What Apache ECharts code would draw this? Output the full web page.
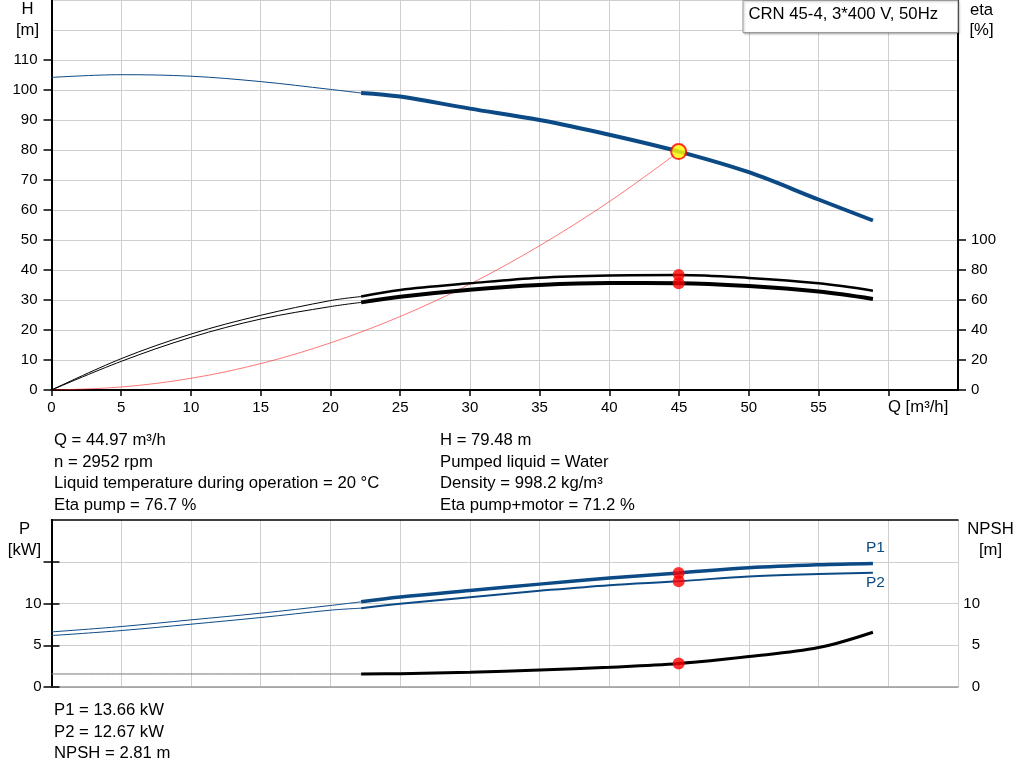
<!DOCTYPE html>
<html>
<head>
<meta charset="utf-8">
<script src="https://cdn.jsdelivr.net/npm/echarts@6/dist/echarts.min.js"></script>
<style>
html,body{margin:0;padding:0;background:#fff;}
#c{width:1024px;height:781px;}
</style>
</head>
<body>
<div id="c"></div>
<script>
// ---- data ----
const Q_TICKS = [0, 5, 10, 15, 20, 25, 30, 35, 40, 45, 50, 55, 60];
const Q_LABELS = [0, 5, 10, 15, 20, 25, 30, 35, 40, 45, 50, 55];
const H_TICKS = [0, 10, 20, 30, 40, 50, 60, 70, 80, 90, 100, 110];
const ETA_TICKS = [0, 20, 40, 60, 80, 100];
const P_TICKS = [0, 5, 10, 15];
const P_LABELS = [0, 5, 10];

const Q_THIN = [0, 5, 10, 15, 20, 22.2];
const Q_THICK = [22.2, 25, 30, 35, 40, 45, 50, 55, 58.9];

const H_THIN = [104.2, 105.1, 104.6, 102.8, 100.2, 99.0];
const H_THICK = [99.0, 97.8, 93.8, 90.0, 85.1, 79.48, 72.6, 63.5, 56.5];

const ETA_PUMP_THIN = [0, 20.9, 37.3, 49.8, 59.6, 62.3];
const ETA_PUMP_THICK = [62.3, 66.7, 71.1, 74.9, 76.4, 76.7, 74.7, 71.1, 66.2];
const ETA_TOTAL_THIN = [0, 19.1, 35.1, 47.3, 55.6, 58.4];
const ETA_TOTAL_THICK = [58.4, 62.2, 66.9, 70.0, 71.3, 71.2, 69.3, 65.6, 60.7];

const SYS_Q = [0, 5, 10, 15, 20, 25, 30, 35, 40, 45];
const SYS_H = [0, 1.0, 3.9, 8.8, 15.7, 24.5, 35.3, 48.1, 62.8, 79.48];

const P1_THIN = [6.6, 7.24, 8.04, 8.84, 9.76, 10.2];
const P1_THICK = [10.2, 10.77, 11.56, 12.32, 13.04, 13.66, 14.28, 14.64, 14.8];
const P2_THIN = [6.16, 6.76, 7.52, 8.32, 9.2, 9.44];
const P2_THICK = [9.44, 9.96, 10.76, 11.52, 12.2, 12.67, 13.24, 13.52, 13.68];
const NPSH_THIN = [1.56, 1.56, 1.56, 1.56, 1.56, 1.56];
const NPSH_THICK = [1.56, 1.6, 1.76, 2.04, 2.36, 2.81, 3.64, 4.72, 6.56];

const DUTY_Q = 44.97;
const DUTY_H = 79.48;
const DUTY_ETA = [76.7, 71.2];
const DUTY_P = [13.66, 12.67];
const DUTY_NPSH = 2.81;

const TEXT_LEFT = ['Q = 44.97 m³/h', 'n = 2952 rpm', 'Liquid temperature during operation = 20 °C', 'Eta pump = 76.7 %'];
const TEXT_RIGHT = ['H = 79.48 m', 'Pumped liquid = Water', 'Density = 998.2 kg/m³', 'Eta pump+motor = 71.2 %'];
const TEXT_BOTTOM = ['P1 = 13.66 kW', 'P2 = 12.67 kW', 'NPSH = 2.81 m'];
const TITLE_BOX = 'CRN 45-4, 3*400 V, 50Hz';

// ---- helpers ----
const zip = (xs, ys) => xs.map((x, i) => [x, ys[i]]);
const FONT = '"Liberation Sans", Arial, Helvetica, sans-serif';
const BLUE = '#0c4a86';
const GRID = '#cfcfcf';
const BIG = '16.7px ';

function lineSeries(x, y, d, color, width, extra) {
  return Object.assign({
    type: 'line', xAxisIndex: x, yAxisIndex: y, data: d,
    smooth: 0.35, showSymbol: false, symbol: 'none',
    lineStyle: { color: color, width: width }, itemStyle: { color: color },
    silent: true, animation: false
  }, extra || {});
}
function txt(text, x, y, opts) {
  return {
    type: 'text', z: 100,
    style: Object.assign({ text: text, x: x, y: y, font: BIG + FONT, fill: '#000',
      textAlign: 'left', textVerticalAlign: 'middle' }, opts || {})
  };
}

const graphics = [];
TEXT_LEFT.forEach((t, i) => graphics.push(txt(t, 54, 440.7 + i * 21.4)));
TEXT_RIGHT.forEach((t, i) => graphics.push(txt(t, 440, 440.7 + i * 21.4)));
TEXT_BOTTOM.forEach((t, i) => graphics.push(txt(t, 54, 710.7 + i * 21.3)));
graphics.push(txt('H', 27.5, 9.5, { textAlign: 'center' }));
graphics.push(txt('[m]', 27.5, 30, { textAlign: 'center' }));
graphics.push(txt('eta', 981.5, 10, { textAlign: 'center' }));
graphics.push(txt('[%]', 981.5, 30, { textAlign: 'center' }));
graphics.push(txt('P', 24.5, 529, { textAlign: 'center' }));
graphics.push(txt('[kW]', 24.5, 550, { textAlign: 'center' }));
graphics.push(txt('NPSH', 990.5, 529, { textAlign: 'center' }));
graphics.push(txt('[m]', 990.5, 550, { textAlign: 'center' }));
graphics.push(txt('Q [m³/h]', 888, 407));
graphics.push(txt('P1', 866, 548, { fill: BLUE, font: '15.5px ' + FONT }));
graphics.push(txt('P2', 866, 583, { fill: BLUE, font: '15.5px ' + FONT }));
graphics.push({
  type: 'rect', z: 99,
  shape: { x: 743, y: 0.5, width: 215, height: 32 },
  style: { fill: '#fff', stroke: '#9a9a9a', lineWidth: 1,
    shadowBlur: 2, shadowOffsetX: 1, shadowOffsetY: 1, shadowColor: 'rgba(0,0,0,0.25)' }
});
graphics.push(txt(TITLE_BOX, 748.5, 14.5));

const labelStyle = { color: '#000', fontSize: 15, fontFamily: FONT };

const option = {
  animation: false,
  backgroundColor: '#fff',
  grid: [
    { left: 51.5, top: 0, width: 906.5, height: 390 },
    { left: 51.5, top: 520, width: 906.5, height: 167 }
  ],
  xAxis: [
    { gridIndex: 0, type: 'value', min: 0, max: 65, interval: 5,
      axisLine: { show: true, onZero: false, lineStyle: { color: '#000', width: 2 } },
      axisTick: { show: true, length: 6, customValues: Q_TICKS, lineStyle: { color: '#000', width: 1.5 } },
      axisLabel: Object.assign({ customValues: Q_LABELS, margin: 10 }, labelStyle),
      splitLine: { show: true, lineStyle: { color: GRID, width: 1 } } },
    { gridIndex: 1, type: 'value', min: 0, max: 65, interval: 5,
      axisLine: { show: true, onZero: false, lineStyle: { color: '#999', width: 1.5 } },
      axisTick: { show: false }, axisLabel: { show: false },
      splitLine: { show: true, lineStyle: { color: GRID, width: 1 } } },
    { gridIndex: 1, type: 'value', position: 'top', min: 0, max: 65, interval: 5,
      axisLine: { show: true, onZero: false, lineStyle: { color: '#000', width: 1.5 } },
      axisTick: { show: false }, axisLabel: { show: false }, splitLine: { show: false } }
  ],
  yAxis: [
    { gridIndex: 0, type: 'value', position: 'left', min: 0, max: 130, interval: 10,
      axisLine: { show: true, lineStyle: { color: '#000', width: 2 } },
      axisTick: { show: true, length: 8, customValues: H_TICKS, lineStyle: { color: '#000', width: 1.5 } },
      axisLabel: Object.assign({ customValues: H_TICKS, margin: 14 }, labelStyle),
      splitLine: { show: false } },
    { gridIndex: 0, type: 'value', position: 'right', min: 0, max: 260, interval: 20,
      axisLine: { show: true, lineStyle: { color: '#000', width: 2 } },
      axisTick: { show: true, length: 8, customValues: ETA_TICKS, lineStyle: { color: '#000', width: 1.5 } },
      axisLabel: Object.assign({ customValues: ETA_TICKS, margin: 13 }, labelStyle),
      splitLine: { show: false } },
    { gridIndex: 0, type: 'value', position: 'left', min: 0, max: 130, interval: 10,
      axisLine: { show: false }, axisTick: { show: false }, axisLabel: { show: false },
      splitLine: { show: true, lineStyle: { color: GRID, width: 1 } } },
    { gridIndex: 1, type: 'value', position: 'left', min: 0, max: 20, interval: 5,
      axisLine: { show: true, lineStyle: { color: '#000', width: 2 } },
      axisTick: { show: true, length: 8, customValues: P_TICKS, lineStyle: { color: '#000', width: 1.5 } },
      axisLabel: Object.assign({ customValues: P_LABELS, margin: 10 }, labelStyle),
      splitLine: { show: true, lineStyle: { color: GRID, width: 1 } } },
    { gridIndex: 1, type: 'value', position: 'right', min: 0, max: 20, interval: 5,
      axisLine: { show: true, lineStyle: { color: '#000', width: 2 } },
      axisTick: { show: true, length: 8, customValues: P_TICKS, lineStyle: { color: '#000', width: 1.5 } },
      axisLabel: Object.assign({ customValues: P_LABELS, margin: 22, align: 'right' }, labelStyle),
      splitLine: { show: false } }
  ],
  graphic: graphics,
  series: [
    lineSeries(0, 0, zip(SYS_Q, SYS_H), 'rgba(255,30,30,0.6)', 1),
    lineSeries(0, 0, zip(Q_THIN, H_THIN), BLUE, 1),
    lineSeries(0, 0, zip(Q_THICK, H_THICK), BLUE, 4),
    lineSeries(0, 1, zip(Q_THIN, ETA_PUMP_THIN), '#000', 1),
    lineSeries(0, 1, zip(Q_THICK, ETA_PUMP_THICK), '#000', 2.5),
    lineSeries(0, 1, zip(Q_THIN, ETA_TOTAL_THIN), '#000', 1),
    lineSeries(0, 1, zip(Q_THICK, ETA_TOTAL_THICK), '#000', 4),
    { type: 'scatter', xAxisIndex: 0, yAxisIndex: 1, symbolSize: 12, z: 5, silent: true,
      itemStyle: { color: '#ff0000' }, data: DUTY_ETA.map(v => [DUTY_Q, v]) },
    { type: 'scatter', xAxisIndex: 0, yAxisIndex: 0, symbolSize: 15, z: 6, silent: true,
      itemStyle: { color: '#ffff00', borderColor: '#ff0000', borderWidth: 2 }, data: [[DUTY_Q, DUTY_H]] },

    lineSeries(1, 3, zip(Q_THIN, P1_THIN), BLUE, 1),
    lineSeries(1, 3, zip(Q_THICK, P1_THICK), BLUE, 3.5),
    lineSeries(1, 3, zip(Q_THIN, P2_THIN), BLUE, 1),
    lineSeries(1, 3, zip(Q_THICK, P2_THICK), BLUE, 2),
    lineSeries(1, 4, zip(Q_THIN, NPSH_THIN), '#777', 1),
    lineSeries(1, 4, zip(Q_THICK, NPSH_THICK), '#000', 3),
    { type: 'scatter', xAxisIndex: 1, yAxisIndex: 3, symbolSize: 12, z: 5, silent: true,
      itemStyle: { color: '#ff0000' }, data: DUTY_P.map(v => [DUTY_Q, v]) },
    { type: 'scatter', xAxisIndex: 1, yAxisIndex: 4, symbolSize: 12, z: 5, silent: true,
      itemStyle: { color: '#ff0000' }, data: [[DUTY_Q, DUTY_NPSH]] }
  ]
};

const chart = echarts.init(document.getElementById('c'), null, { renderer: 'canvas' });
chart.setOption(option);
</script>
</body>
</html>
